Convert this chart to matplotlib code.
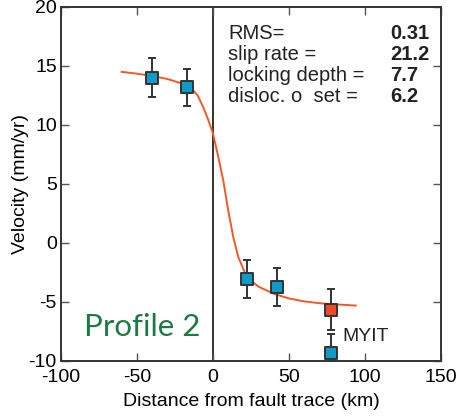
"""Fault-parallel velocity profile with arctan dislocation fit (Profile 2)."""

import matplotlib
matplotlib.use("Agg")
import matplotlib.pyplot as plt

# GPS stations: distance from fault (km), velocity (mm/yr), 1-sigma error
station_x = [-40, -17, 22.4, 42, 77.6]
station_v = [14.0, 13.2, -3.05, -3.75, -9.3]
station_err = [1.65, 1.55, 1.65, 1.6, 1.6]

# outlier station drawn in red
red_x = [77.6]
red_v = [-5.65]
red_err = [1.75]

# model curve
curve_x = [-60, -50, -40, -30, -20, -15, -10, -6, -3, 0, 3.5, 6.8, 10, 13.4,
           16.7, 21, 25, 30, 40, 50, 60, 70, 80, 94]
curve_v = [14.5, 14.35, 14.15, 13.9, 13.5, 13.2, 12.5, 11.4, 10.4, 9.3, 7.3,
           5.3, 2.8, 0.5, -1.2, -2.5, -3.2, -3.7, -4.3, -4.7, -4.95, -5.1,
           -5.2, -5.3]

fit_labels = ["RMS=", "slip rate =", "locking depth =", "disloc. o  set ="]
fit_values = ["0.31", "21.2", "7.7", "6.2"]

x_ticks = [-100, -50, 0, 50, 100, 150]
y_ticks = [-10, -5, 0, 5, 10, 15, 20]

plt.rcParams["font.family"] = ["Liberation Sans", "DejaVu Sans"]
plt.rcParams["axes.unicode_minus"] = False

fig = plt.figure(figsize=(4.69, 4.18), dpi=100)
ax = fig.add_axes([0.130, 0.1364, 0.810, 0.8469])

ax.axvline(0, color="#222222", lw=1.3, zorder=1)
ax.plot(curve_x, curve_v, color="#f05a28", lw=1.4, zorder=2)

err_style = dict(fmt="none", ecolor="#333333", elinewidth=1.4, capsize=3,
                 capthick=1.4, zorder=3)
ax.errorbar(station_x, station_v, yerr=station_err, **err_style)
ax.errorbar(red_x, red_v, yerr=red_err, **err_style)
ax.scatter(station_x, station_v, marker="s", s=66, color="#0f9ac8",
           edgecolor="#333333", linewidth=1.4, zorder=4, clip_on=False)
ax.scatter(red_x, red_v, marker="s", s=66, color="#ee4a2a",
           edgecolor="#333333", linewidth=1.4, zorder=4)

ax.set_xlim(-100, 150)
ax.set_ylim(-10, 20)
ax.set_xticks(x_ticks)
ax.set_yticks(y_ticks)
ax.tick_params(direction="in", length=6, width=1, color="#555555",
               top=True, right=True, labelsize=14)
ax.tick_params(axis="x", pad=6)
ax.tick_params(axis="y", pad=3)
for s in ax.spines.values():
    s.set_color("#333333")
    s.set_linewidth(1.4)

ax.set_xlabel("Distance from fault trace (km)", fontsize=14, labelpad=5)
ax.set_ylabel("Velocity (mm/yr)", fontsize=14, labelpad=0)

for i, (lab, val) in enumerate(zip(fit_labels, fit_values)):
    y = 0.924 - i * 0.0593
    ax.text(0.44, y, lab, transform=ax.transAxes, fontsize=14.5,
            va="center", ha="left", color="#222222")
    ax.text(0.866, y, val, transform=ax.transAxes, fontsize=14.5,
            va="center", ha="left", fontweight="bold", color="#222222")

ax.text(85.5, -7.95, "MYIT", fontsize=14, va="center", ha="left",
        color="#222222")
ax.text(-85, -7.1, "Profile 2", fontsize=22.5, color="#1e7a45",
        family=["Lato", "DejaVu Sans"], va="center", ha="left")

fig.savefig("out.png", dpi=100)
